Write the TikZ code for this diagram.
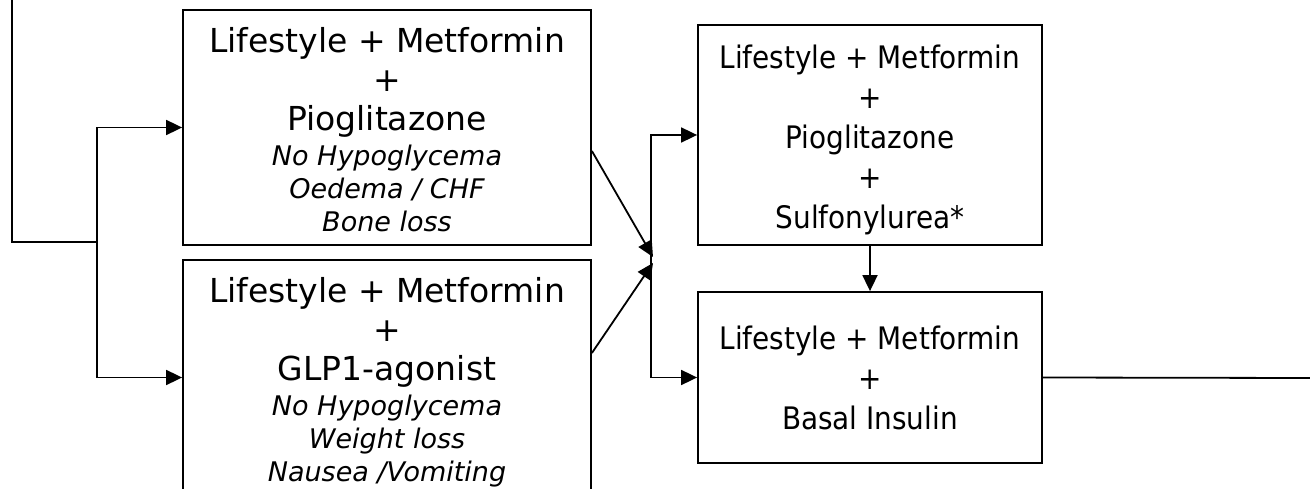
\documentclass[tikz,border=0pt]{standalone}
\usepackage{fontspec}
\setmainfont{DejaVu Sans}
\newfontfamily\narrowfont{DejaVu Sans Condensed}
\usetikzlibrary{arrows.meta}
\tikzset{
  stage/.style={draw, line width=1.8pt, align=center, inner sep=0pt,
    font=\fontsize{33}{39}\selectfont},
  narrow/.style={font=\narrowfont\fontsize{31}{40}\selectfont},
  link/.style={line width=1.8pt, -{Triangle[length=16pt,width=15pt]}},
  plain/.style={line width=1.8pt},
}
\newcommand{\sidefx}[1]{{\fontsize{27}{33}\selectfont\itshape #1}}
\newcommand{\drop}[1]{\rule{0pt}{#1}}
\begin{document}
\begin{tikzpicture}[x=1pt,y=-1pt]
\clip (0,0) rectangle (1310,489);
% second-line options
\node[stage, minimum width=408, minimum height=235] (pio) at (387,127.5)
  {\drop{28.5pt}Lifestyle + Metformin\\+\\Pioglitazone\\[-4pt]
   \sidefx{No Hypoglycema}\\[-6pt]\sidefx{Oedema / CHF}\\[-6pt]\sidefx{Bone loss}};
\node[stage, minimum width=408, minimum height=235] (glp) at (387,377.5)
  {\drop{34.7pt}Lifestyle + Metformin\\+\\GLP1-agonist\\[-4pt]
   \sidefx{No Hypoglycema}\\[-6pt]\sidefx{Weight loss}\\[-6pt]\sidefx{Nausea /Vomiting}};
% third-line options
\node[stage, narrow, minimum width=344, minimum height=220] (sulf) at (870,135)
  {\drop{33.3pt}Lifestyle + Metformin\\+\\Pioglitazone\\+\\Sulfonylurea*};
\node[stage, narrow, minimum width=344, minimum height=171] (ins) at (870,377.5)
  {\drop{25pt}Lifestyle + Metformin\\+\\Basal Insulin};
% connectors
\coordinate (top) at (12,0);
\coordinate (fork) at (97,242);
\coordinate (join) at (651,260);
\coordinate (exit) at (1310,378);
\draw[plain] (top) |- (fork);
\draw[link] (fork) |- (pio.west);
\draw[link] (fork) |- (glp.west);
\draw[link] ([yshift=-23.5pt]pio.east) -- ([yshift=3pt,xshift=2pt]join);
\draw[link] ([yshift=24.5pt]glp.east) -- ([yshift=-3pt,xshift=2pt]join);
\draw[link] (join) |- (sulf.west);
\draw[link] (join) |- (ins.west);
\draw[link] (sulf.south) -- (ins.north);
\draw[plain] (ins.east) -- (exit);
\end{tikzpicture}
\end{document}
